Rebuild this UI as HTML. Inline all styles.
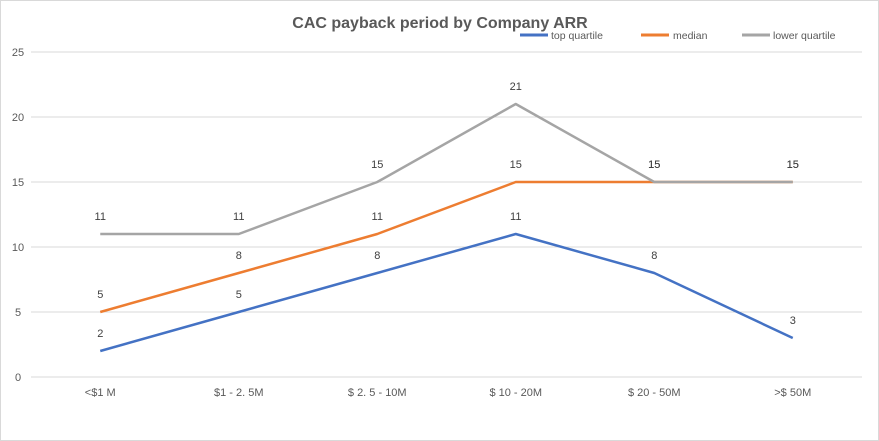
<!DOCTYPE html>
<html><head><meta charset="utf-8"><style>
body{margin:0;background:#fff}
svg{display:block;font-family:"Liberation Sans",sans-serif}
</style></head><body>
<svg id="c" width="879" height="441">
<rect x="0.5" y="0.5" width="878" height="440" fill="#fff" stroke="#d9d9d9"/>
<text x="440" y="28" text-anchor="middle" font-size="16" font-weight="bold" fill="#595959">CAC payback period by Company ARR</text>
<g id="grid"></g><g id="series"></g>
<g font-size="10.5" fill="#595959">
<line x1="520" y1="35" x2="548" y2="35" stroke="#4472c4" stroke-width="3"/>
<text x="551" y="39">top quartile</text>
<line x1="641" y1="35" x2="669" y2="35" stroke="#ed7d31" stroke-width="3"/>
<text x="673" y="39">median</text>
<line x1="742" y1="35" x2="770" y2="35" stroke="#a5a5a5" stroke-width="3"/>
<text x="773" y="39">lower quartile</text>
</g>
</svg>
<script>
const categories=["<$1 M","$1 - 2. 5M","$ 2. 5 - 10M","$ 10 - 20M","$ 20 - 50M",">$ 50M"];
const topQuartile=[2,5,8,11,8,3];
const median=[5,8,11,15,15,15];
const lowerQuartile=[11,11,15,21,15,15];
const yTicks=[0,5,10,15,20,25];
const NS="http://www.w3.org/2000/svg";
const L=31,R=862,T=52,B=377,yMax=25;
const x=i=>L+(R-L)/categories.length*(i+0.5);
const y=v=>B-(B-T)*v/yMax;
function mk(t,a,p){const e=document.createElementNS(NS,t);for(const k in a)e.setAttribute(k,a[k]);p.appendChild(e);return e;}
const g=document.getElementById('grid');
yTicks.forEach(v=>{
 const l=mk('line',{x1:L,x2:R,y1:y(v),y2:y(v),stroke:'#d9d9d9'},g);
 
 
 const t=mk('text',{x:18,y:y(v)+4,'text-anchor':'middle','font-size':11,fill:'#595959'},g);
 t.textContent=v;
 
 
});
categories.forEach((c,i)=>{
 const t=mk('text',{x:x(i),y:396,'text-anchor':'middle','font-size':11,fill:'#595959'},g);
 t.textContent=c;
 
 
});
const s=document.getElementById('series');
[[topQuartile,'#4472c4','top-quartile'],[median,'#ed7d31','median'],[lowerQuartile,'#a5a5a5','lower-quartile']].forEach(([d,col,n])=>{
 const p=mk('polyline',{points:d.map((v,i)=>x(i)+','+y(v)).join(' '),fill:'none',stroke:col,'stroke-width':2.5,'stroke-linejoin':'round'},s);
 
 
 d.forEach((v,i)=>{
  const t=mk('text',{x:x(i),y:y(v)-14,'text-anchor':'middle','font-size':11,fill:'#404040'},s);
  t.textContent=v;
  
  
 });
});
</script>
</body></html>
